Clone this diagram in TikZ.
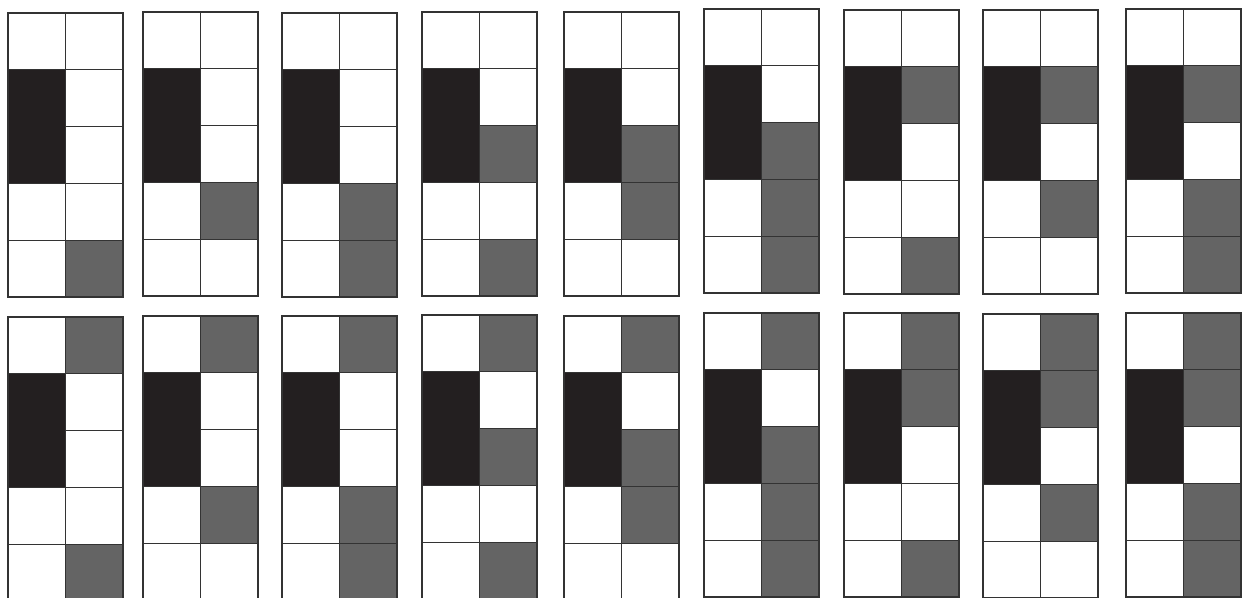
\documentclass[tikz,border=0pt]{standalone}
\usepackage{tikz}
\usepackage{xcolor}

\definecolor{barblack}{HTML}{231F20}
\definecolor{bargray}{HTML}{646464}

\tikzset{
  cellw/.style={draw=black!80, line width=1.3pt, fill=white},
  cellg/.style={cellw, fill=bargray},
  cellb/.style={cellw, fill=barblack},
}

\begin{document}
\begin{tikzpicture}[x=1pt, y=-1pt]
  \useasboundingbox (0,0) rectangle (1242,597);
  \clip (0,0) rectangle (1242,597);
  % left column is always the same, right column follows the list
  \foreach \px/\py/\bits in {
      8/13/{w,w,w,w,g}, 143/12/{w,w,w,g,w}, 282/13/{w,w,w,g,g},
      422/12/{w,w,g,w,g}, 564/12/{w,w,g,g,w}, 704/9/{w,w,g,g,g},
      844/10/{w,g,w,w,g}, 983/10/{w,g,w,g,w}, 1126/9/{w,g,w,g,g},
      8/317/{g,w,w,w,g}, 143/316/{g,w,w,g,w}, 282/316/{g,w,w,g,g},
      422/315/{g,w,g,w,g}, 564/316/{g,w,g,g,w}, 704/313/{g,w,g,g,g},
      844/313/{g,g,w,w,g}, 983/314/{g,g,w,g,w}, 1126/313/{g,g,w,g,g}}
  {
    \draw[cellw] (\px,\py) rectangle ++(57.5,56.8);
    \draw[cellb] (\px,\py+56.8) rectangle ++(57.5,113.6);
    \draw[cellw] (\px,\py+170.4) rectangle ++(57.5,56.8);
    \draw[cellw] (\px,\py+227.2) rectangle ++(57.5,56.8);
    \foreach \c [count=\r from 0] in \bits
      \draw[cell\c] (\px+57.5,\py+\r*56.8) rectangle ++(57.5,56.8);
  }
\end{tikzpicture}
\end{document}
